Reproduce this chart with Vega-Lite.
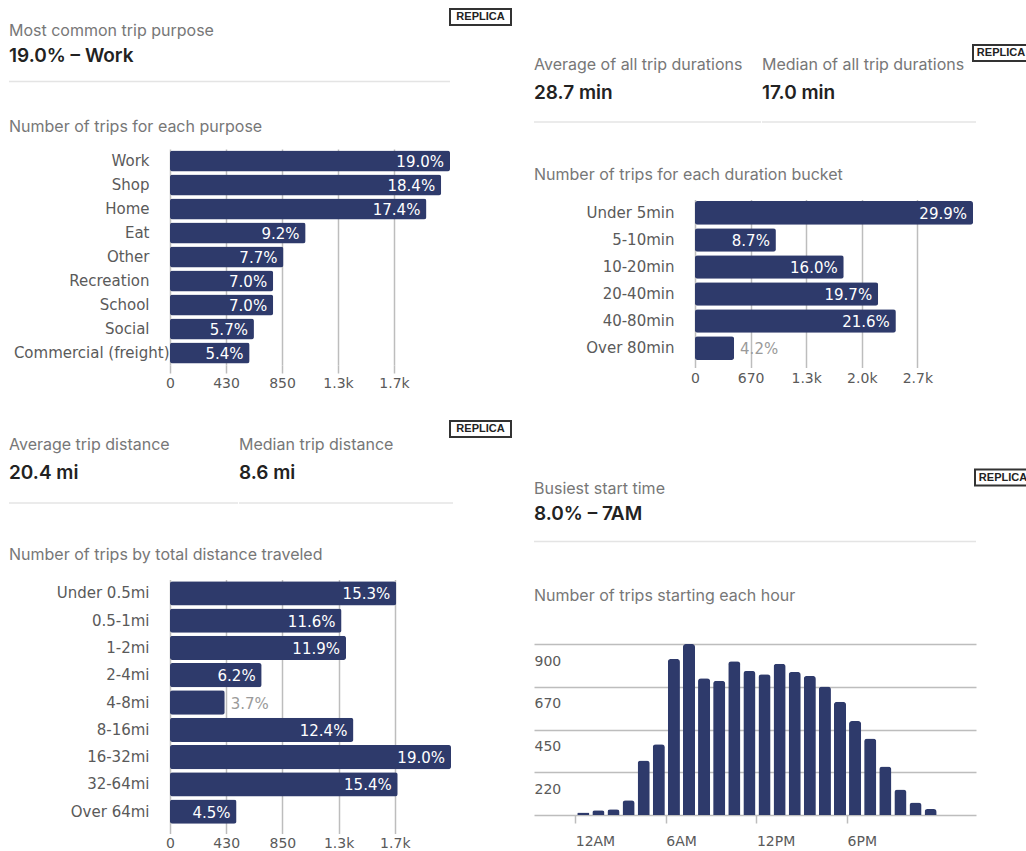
{
  "$schema": "https://vega.github.io/schema/vega-lite/v6.json",
  "background": "white",
  "padding": {"left": 8, "top": 8, "right": 0, "bottom": 0},
  "config": {
    "view": {"stroke": null},
    "title": {"anchor": "start", "frame": "group", "font": "Inter", "fontSize": 16, "fontWeight": 400, "color": "#777777", "subtitleFont": "Inter", "subtitleFontSize": 19, "subtitleFontWeight": 600, "subtitleColor": "#222222", "subtitlePadding": 8},
    "axis": {"labelFont": "DejaVu Sans", "labelFontSize": 14, "labelColor": "#5a5a5a", "title": null, "domain": false, "labelFlush": false, "labelOverlap": false}
  },
  "spacing": 21,
  "hconcat": [
    {
      "spacing": 30,
      "vconcat": [
        {
          "spacing": 35,
          "vconcat": [
            {
              "spacing": -3.5,
              "vconcat": [
                {"spacing": 0, "hconcat": [
                  {"width": 440, "height": 16, "data": {"values": [{}]}, "mark": {"type": "text", "text": ""}, "encoding": {}},
                  {"width": 61, "height": 16, "data": {"values": [{"badge": "REPLICA"}]}, "view": {"stroke": "#333333", "strokeWidth": 2}, "mark": {"type": "text", "font": "Liberation Sans", "fontSize": 11, "fontWeight": "bold", "color": "#222222"}, "encoding": {"text": {"field": "badge"}}}
                ]},
                {"width": 441, "height": 1, "data": {"values": [{}]}, "title": {"text": "Most common trip purpose", "subtitle": "19.0% – Work", "subtitlePadding": 8, "offset": 14.5}, "mark": {"type": "rule", "color": "#e4e4e4", "strokeWidth": 1.5}, "encoding": {"y": {"datum": 0, "type": "quantitative", "scale": {"domain": [0, 1]}, "axis": null}}}
              ]
            },
            {
              "width": 441, "height": 216,
              "title": {"text": "Number of trips for each purpose", "offset": 14.5},
              "data": {"values": [
                {"purpose": "Work", "trips": 2125, "share": 0.190},
                {"purpose": "Shop", "trips": 2058, "share": 0.184},
                {"purpose": "Home", "trips": 1946, "share": 0.174},
                {"purpose": "Eat", "trips": 1029, "share": 0.092},
                {"purpose": "Other", "trips": 861, "share": 0.077},
                {"purpose": "Recreation", "trips": 783, "share": 0.070},
                {"purpose": "School", "trips": 783, "share": 0.070},
                {"purpose": "Social", "trips": 637, "share": 0.057},
                {"purpose": "Commercial (freight)", "trips": 604, "share": 0.054}
              ]},
              "encoding": {
                "y": {"field": "purpose", "type": "nominal", "sort": null, "scale": {"paddingInner": 0.125, "paddingOuter": 0.06}, "axis": {"ticks": false, "labelFontSize": 15, "labelPadding": {"condition": {"test": "datum.label == 'Commercial (freight)'", "value": -160}, "value": -140}, "labelLimit": 300}},
                "x": {"field": "trips", "type": "quantitative", "scale": {"domain": [0, 2125], "range": [161, 441], "nice": false}, "axis": {"values": [0, 425, 850, 1275, 1700], "labelExpr": "datum.value == 0 ? '0' : format(datum.value, '.2s')", "grid": true, "gridColor": "#bdbdbd", "gridWidth": 1.5, "tickColor": "#bdbdbd", "tickWidth": 1.5, "tickSize": 8, "labelPadding": 3}}
              },
              "layer": [
                {"mark": {"type": "bar", "color": "#2e3a6b", "cornerRadius": 2.5}},
                {"transform": [{"filter": "datum.trips >= 490"}], "mark": {"type": "text", "align": "right", "dx": -6, "dy": 1, "font": "DejaVu Sans", "fontSize": 15, "color": "white"}, "encoding": {"text": {"field": "share", "format": ".1%"}}},
                {"transform": [{"filter": "datum.trips < 490"}], "mark": {"type": "text", "align": "left", "dx": 6, "dy": 1, "font": "DejaVu Sans", "fontSize": 15, "color": "#9a9a9a"}, "encoding": {"text": {"field": "share", "format": ".1%"}}}
              ]
            }
          ]
        },
        {
          "spacing": 42.5,
          "vconcat": [
            {
              "spacing": -2,
              "vconcat": [
                {"spacing": 0, "hconcat": [
                  {"width": 440, "height": 16, "data": {"values": [{}]}, "mark": {"type": "text", "text": ""}, "encoding": {}},
                  {"width": 61, "height": 16, "data": {"values": [{"badge": "REPLICA"}]}, "view": {"stroke": "#333333", "strokeWidth": 2}, "mark": {"type": "text", "font": "Liberation Sans", "fontSize": 11, "fontWeight": "bold", "color": "#222222"}, "encoding": {"text": {"field": "badge"}}}
                ]},
                {"spacing": -2, "hconcat": [
                  {"width": 229, "height": 1, "data": {"values": [{}]}, "title": {"text": "Average trip distance", "subtitle": "20.4 mi", "subtitlePadding": 11, "offset": 19.5}, "mark": {"type": "rule", "color": "#e4e4e4", "strokeWidth": 1.5}, "encoding": {"y": {"datum": 0, "type": "quantitative", "scale": {"domain": [0, 1]}, "axis": null}}},
                  {"width": 214, "height": 1, "data": {"values": [{}]}, "title": {"text": "Median trip distance", "subtitle": "8.6 mi", "subtitlePadding": 11, "offset": 19.5}, "mark": {"type": "rule", "color": "#e4e4e4", "strokeWidth": 1.5}, "encoding": {"y": {"datum": 0, "type": "quantitative", "scale": {"domain": [0, 1]}, "axis": null}}}
                ]}
              ]
            },
            {
              "width": 442, "height": 246,
              "title": {"text": "Number of trips by total distance traveled", "offset": 16.7},
              "data": {"values": [
                {"distance": "Under 0.5mi", "trips": 1711, "share": 0.153},
                {"distance": "0.5-1mi", "trips": 1297, "share": 0.116},
                {"distance": "1-2mi", "trips": 1331, "share": 0.119},
                {"distance": "2-4mi", "trips": 693, "share": 0.062},
                {"distance": "4-8mi", "trips": 414, "share": 0.037},
                {"distance": "8-16mi", "trips": 1387, "share": 0.124},
                {"distance": "16-32mi", "trips": 2125, "share": 0.190},
                {"distance": "32-64mi", "trips": 1722, "share": 0.154},
                {"distance": "Over 64mi", "trips": 503, "share": 0.045}
              ]},
              "encoding": {
                "y": {"field": "distance", "type": "nominal", "sort": null, "scale": {"paddingInner": 0.11, "paddingOuter": 0.06}, "axis": {"ticks": false, "labelFontSize": 15, "labelPadding": -140}},
                "x": {"field": "trips", "type": "quantitative", "scale": {"domain": [0, 2125], "range": [161, 442], "nice": false}, "axis": {"values": [0, 425, 850, 1275, 1700], "labelExpr": "datum.value == 0 ? '0' : format(datum.value, '.2s')", "grid": true, "gridColor": "#bdbdbd", "gridWidth": 1.5, "tickColor": "#bdbdbd", "tickWidth": 1.5, "tickSize": 8, "labelPadding": 3}}
              },
              "layer": [
                {"mark": {"type": "bar", "color": "#2e3a6b", "cornerRadius": 2.5}},
                {"transform": [{"filter": "datum.trips >= 490"}], "mark": {"type": "text", "align": "right", "dx": -6, "dy": 1, "font": "DejaVu Sans", "fontSize": 15, "color": "white"}, "encoding": {"text": {"field": "share", "format": ".1%"}}},
                {"transform": [{"filter": "datum.trips < 490"}], "mark": {"type": "text", "align": "left", "dx": 6, "dy": 1, "font": "DejaVu Sans", "fontSize": 15, "color": "#9a9a9a"}, "encoding": {"text": {"field": "share", "format": ".1%"}}}
              ]
            }
          ]
        }
      ]
    },
    {
      "spacing": 82.5,
      "vconcat": [
        {
          "spacing": 43.5,
          "vconcat": [
            {
              "spacing": 0,
              "vconcat": [
                {"width": 1, "height": 35, "data": {"values": [{}]}, "mark": {"type": "text", "text": ""}, "encoding": {}},
                {"spacing": -6, "vconcat": [
                  {"spacing": 0, "hconcat": [
                    {"width": 438, "height": 16, "data": {"values": [{}]}, "mark": {"type": "text", "text": ""}, "encoding": {}},
                    {"width": 56, "height": 16, "data": {"values": [{"badge": "REPLICA"}]}, "view": {"stroke": "#333333", "strokeWidth": 2}, "mark": {"type": "text", "font": "Liberation Sans", "fontSize": 11, "fontWeight": "bold", "color": "#222222"}, "encoding": {"text": {"field": "badge"}}}
                  ]},
                  {"spacing": -2, "hconcat": [
                    {"width": 227, "height": 1, "data": {"values": [{}]}, "title": {"text": "Average of all trip durations", "subtitle": "28.7 min", "subtitlePadding": 11, "offset": 18.5}, "mark": {"type": "rule", "color": "#e4e4e4", "strokeWidth": 1.5}, "encoding": {"y": {"datum": 0, "type": "quantitative", "scale": {"domain": [0, 1]}, "axis": null}}},
                    {"width": 214, "height": 1, "data": {"values": [{}]}, "title": {"text": "Median of all trip durations", "subtitle": "17.0 min", "subtitlePadding": 11, "offset": 18.5}, "mark": {"type": "rule", "color": "#e4e4e4", "strokeWidth": 1.5}, "encoding": {"y": {"datum": 0, "type": "quantitative", "scale": {"domain": [0, 1]}, "axis": null}}}
                  ]}
                ]}
              ]
            },
            {
              "width": 439, "height": 162,
              "title": {"text": "Number of trips for each duration bucket", "offset": 16.5},
              "data": {"values": [
                {"duration": "Under 5min", "trips": 3344, "share": 0.299},
                {"duration": "5-10min", "trips": 973, "share": 0.087},
                {"duration": "10-20min", "trips": 1789, "share": 0.160},
                {"duration": "20-40min", "trips": 2203, "share": 0.197},
                {"duration": "40-80min", "trips": 2416, "share": 0.216},
                {"duration": "Over 80min", "trips": 470, "share": 0.042}
              ]},
              "encoding": {
                "y": {"field": "duration", "type": "nominal", "sort": null, "scale": {"paddingInner": 0.127, "paddingOuter": 0.06}, "axis": {"ticks": false, "labelFontSize": 15, "labelPadding": -140}},
                "x": {"field": "trips", "type": "quantitative", "scale": {"domain": [0, 3344], "range": [161, 439], "nice": false}, "axis": {"values": [0, 668.8, 1337.6, 2006.4, 2675.2], "labelExpr": "datum.value == 0 ? '0' : format(datum.value, '.2s')", "grid": true, "gridColor": "#bdbdbd", "gridWidth": 1.5, "tickColor": "#bdbdbd", "tickWidth": 1.5, "tickSize": 6, "labelPadding": 4}}
              },
              "layer": [
                {"mark": {"type": "bar", "color": "#2e3a6b", "cornerRadius": 2.5}},
                {"transform": [{"filter": "datum.trips >= 490"}], "mark": {"type": "text", "align": "right", "dx": -6, "dy": 1, "font": "DejaVu Sans", "fontSize": 15, "color": "white"}, "encoding": {"text": {"field": "share", "format": ".1%"}}},
                {"transform": [{"filter": "datum.trips < 490"}], "mark": {"type": "text", "align": "left", "dx": 6, "dy": 1, "font": "DejaVu Sans", "fontSize": 15, "color": "#9a9a9a"}, "encoding": {"text": {"field": "share", "format": ".1%"}}}
              ]
            }
          ]
        },
        {
          "spacing": 45.5,
          "vconcat": [
            {
              "spacing": -6,
              "vconcat": [
                {"spacing": 0, "hconcat": [
                  {"width": 440, "height": 16, "data": {"values": [{}]}, "mark": {"type": "text", "text": ""}, "encoding": {}},
                  {"width": 56, "height": 16, "data": {"values": [{"badge": "REPLICA"}]}, "view": {"stroke": "#333333", "strokeWidth": 2}, "mark": {"type": "text", "font": "Liberation Sans", "fontSize": 11, "fontWeight": "bold", "color": "#222222"}, "encoding": {"text": {"field": "badge"}}}
                ]},
                {"width": 442, "height": 1, "data": {"values": [{}]}, "title": {"text": "Busiest start time", "subtitle": "8.0% – 7AM", "subtitlePadding": 8, "offset": 16.5}, "mark": {"type": "rule", "color": "#e4e4e4", "strokeWidth": 1.5}, "encoding": {"y": {"datum": 0, "type": "quantitative", "scale": {"domain": [0, 1]}, "axis": null}}}
              ]
            },
            {
              "width": 442, "height": 171,
              "title": {"text": "Number of trips starting each hour", "offset": 40},
              "data": {"values": [
                {"hour": 0, "trips": 13}, {"hour": 1, "trips": 25}, {"hour": 2, "trips": 30}, {"hour": 3, "trips": 77},
                {"hour": 4, "trips": 285}, {"hour": 5, "trips": 370}, {"hour": 6, "trips": 817}, {"hour": 7, "trips": 895},
                {"hour": 8, "trips": 716}, {"hour": 9, "trips": 703}, {"hour": 10, "trips": 805}, {"hour": 11, "trips": 754},
                {"hour": 12, "trips": 737}, {"hour": 13, "trips": 791}, {"hour": 14, "trips": 749}, {"hour": 15, "trips": 728},
                {"hour": 16, "trips": 672}, {"hour": 17, "trips": 593}, {"hour": 18, "trips": 492}, {"hour": 19, "trips": 401},
                {"hour": 20, "trips": 254}, {"hour": 21, "trips": 133}, {"hour": 22, "trips": 65}, {"hour": 23, "trips": 31}
              ]},
              "mark": {"type": "bar", "color": "#2e3a6b", "binSpacing": 3, "cornerRadiusTopLeft": 3, "cornerRadiusTopRight": 3},
              "encoding": {
                "x": {"field": "hour", "type": "quantitative", "bin": {"step": 1, "extent": [0, 24]}, "scale": {"domain": [-2.73, 26.54], "nice": false, "zero": false}, "axis": {"values": [0, 6, 12, 18], "labelExpr": "datum.value == 0 ? '12AM' : datum.value == 6 ? '6AM' : datum.value == 12 ? '12PM' : '6PM'", "labelAlign": "left", "grid": false, "tickColor": "#bdbdbd", "tickWidth": 1.5, "tickSize": 8, "labelPadding": 11}},
                "y": {"field": "trips", "type": "quantitative", "scale": {"domain": [0, 895], "nice": false}, "axis": {"values": [0, 223.75, 447.5, 671.25, 895], "labelExpr": "datum.value == 0 ? '' : format(datum.value, '.2s')", "labelAlign": "left", "labelBaseline": "top", "labelPadding": 0, "labelOffset": 10, "ticks": false, "grid": true, "gridColor": "#bdbdbd", "gridWidth": 1.5}}
              }
            }
          ]
        }
      ]
    }
  ]
}
